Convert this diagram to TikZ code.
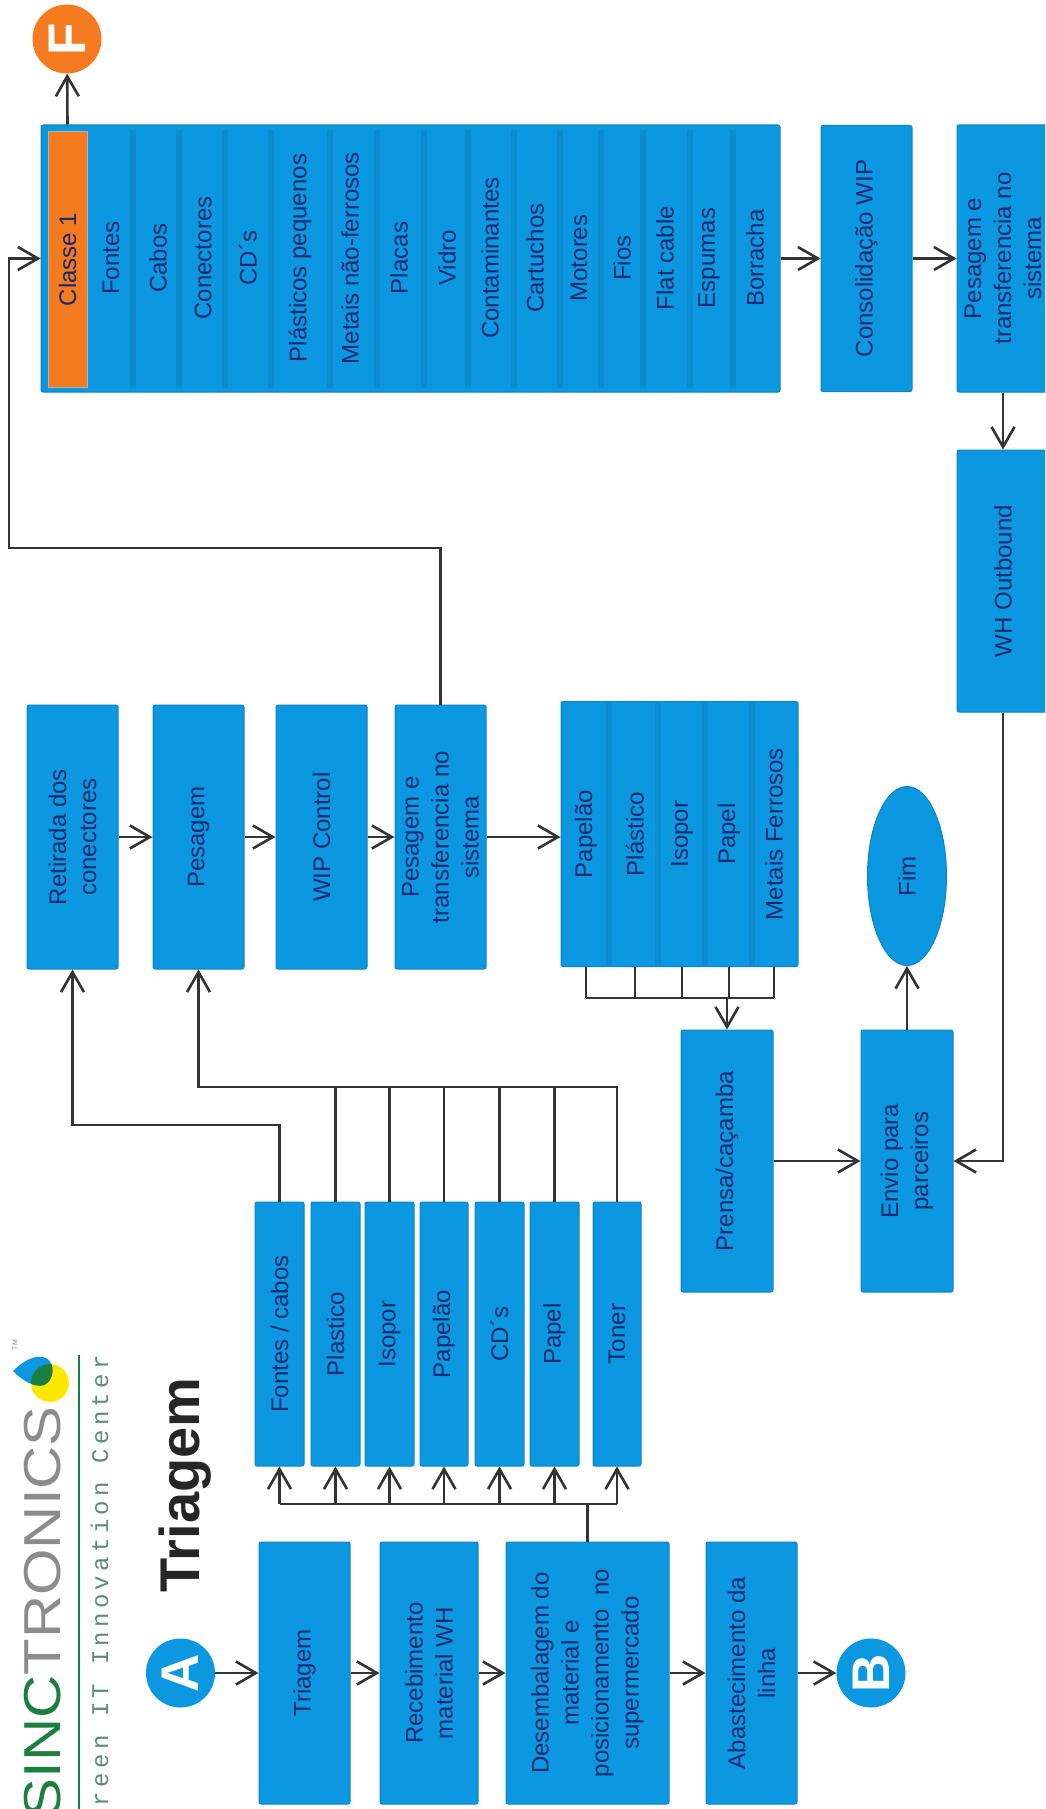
\documentclass[tikz,border=0pt]{standalone}
\usepackage{fontspec}
\setmainfont{Liberation Sans}
\newfontfamily\logomono[LetterSpace=18]{Liberation Mono}
\usetikzlibrary{arrows.meta,shapes.geometric}

\definecolor{blockBlue}{HTML}{0B98E0}
\definecolor{blockEdge}{HTML}{0B84C4}
\definecolor{stripeBlue}{HTML}{0B8ACF}
\definecolor{classeOrange}{HTML}{F47B20}
\definecolor{labelNavy}{HTML}{14296F}
\definecolor{lineDark}{HTML}{333333}
\definecolor{logoGreen}{HTML}{1D7F3F}
\definecolor{logoGrey}{HTML}{8C8C8C}
\definecolor{logoTeal}{HTML}{5E8A7A}

\tikzset{
    >={Straight Barb[length=20pt,width=23pt]},
    blockBox/.style={rotate=90, draw=blockEdge, fill=blockBlue, line width=1pt, rounded corners=2pt,
        inner sep=0pt, align=center, text=labelNavy, font=\fontsize{24}{30}\selectfont},
    itemText/.style={rotate=90, inner sep=0pt, text=labelNavy, font=\fontsize{24}{30}\selectfont},
    tagCircle/.style={circle, minimum size=69pt, inner sep=0pt, text=white, font=\fontsize{53}{53}\selectfont\bfseries},
    flowLine/.style={->, lineDark, line width=2.6pt},
    busLine/.style={lineDark, line width=2.6pt},
}

\begin{document}
\begin{tikzpicture}[x=1pt,y=-1pt]
    \useasboundingbox (0,0) rectangle (1045,1809);
    \clip (0,0) rectangle (1045,1809);

    % Logo and title
    \fill[yellow!90!orange] (50,1383) circle (19);
    \fill[blockBlue] (13,1371) .. controls (24,1360) and (36,1354) .. (46,1358)
        .. controls (56,1363) and (54,1381) .. (44,1385) .. controls (34,1388) and (22,1380) .. (13,1371);
    \begin{scope}
        \clip (13,1371) .. controls (24,1360) and (36,1354) .. (46,1358)
            .. controls (56,1363) and (54,1381) .. (44,1385) .. controls (34,1388) and (22,1380) .. (13,1371);
        \fill[logoGreen] (50,1383) circle (19);
    \end{scope}
    \node[rotate=90, anchor=base east, inner sep=0pt, font=\fontsize{52}{52}\selectfont] (logoName) at (60,1406)
        {\scalebox{1.15}[1]{\textcolor{logoGreen}{SINC}\textcolor{logoGrey}{TRONICS}}};
    \node[rotate=90, inner sep=0pt, text=logoGrey, font=\fontsize{7}{7}\selectfont] (logoTm) at (15,1345) {TM};
    \draw[logoGreen, line width=2pt] (79,1355) -- (79,1809);
    \node[rotate=90, anchor=base east, inner sep=0pt, text=logoTeal, font=\logomono\fontsize{24}{24}\selectfont] (logoSub) at (108,1355)
        {reen IT Innovation Center};
    \node[rotate=90, anchor=base, inner sep=0pt, text=black!85, font=\fontsize{56}{56}\selectfont\bfseries] (tituloTriagem) at (199,1485) {Triagem};

    % Left column
    \node[tagCircle, fill=blockBlue] (tagA) at (180.5,1673) {\rotatebox{90}{A}};
    \node[blockBox, minimum width=262pt, minimum height=91pt] (triagem) at (304.5,1673) {Triagem};
    \node[blockBox, minimum width=262pt, minimum height=98pt] (recebimento) at (429,1673) {Recebimento\\material WH};
    \node[blockBox, minimum width=262pt, minimum height=163pt] (desembalagem) at (587.5,1673)
        {Desembalagem do\\material e\\posicionamento~~no\\supermercado};
    \node[blockBox, minimum width=262pt, minimum height=91pt] (abastecimento) at (751.5,1673) {Abastecimento da\\linha};
    \node[tagCircle, fill=blockBlue] (tagB) at (871,1673) {\rotatebox{90}{B}};

    \draw[flowLine] (tagA) -- (triagem);
    \draw[flowLine] (triagem) -- (recebimento);
    \draw[flowLine] (recebimento) -- (desembalagem);
    \draw[flowLine] (desembalagem) -- (abastecimento);
    \draw[flowLine] (abastecimento) -- (tagB);

    % Sorted material boxes
    \foreach \name/\x/\boxw/\txt in {fontesCabos/279.5/49/{Fontes / cabos}, plastico/335.5/49/Plastico, isopor/389.5/49/Isopor,
            papelao/444/48/Papelão, cds/499.5/49/CD´s, papel/554.5/49/Papel, toner/617/48/Toner}
        \node[blockBox, minimum width=264pt, minimum height=\boxw pt] (\name) at (\x,1334) {\txt};

    % Fan out from Desembalagem
    \coordinate (busFan) at (587.5,1504);
    \draw[busLine] (desembalagem.east) -- (busFan);
    \draw[busLine] (fontesCabos.west |- busFan) -- (toner.west |- busFan);
    \foreach \name in {fontesCabos, plastico, isopor, papelao, cds, papel, toner}
        \draw[flowLine] (\name.west |- busFan) -- (\name.west);

    % Middle row
    \node[blockBox, minimum width=264pt, minimum height=91pt] (retirada) at (72.5,837) {Retirada dos\\conectores};
    \node[blockBox, minimum width=264pt, minimum height=91pt] (pesagem) at (198.5,837) {Pesagem};
    \node[blockBox, minimum width=264pt, minimum height=91pt] (wipControl) at (321.5,837) {WIP Control};
    \node[blockBox, minimum width=264pt, minimum height=91pt] (pesagemMeio) at (440.5,837) {Pesagem e\\transferencia no\\sistema};

    \draw[flowLine] (retirada) -- (pesagem);
    \draw[flowLine] (pesagem) -- (wipControl);
    \draw[flowLine] (wipControl) -- (pesagemMeio);

    \coordinate (busFontes) at (72.5,1125);
    \draw[flowLine] (fontesCabos.east) |- (busFontes) -- (retirada.west);
    \coordinate (busPesagem) at (198.5,1087);
    \draw[flowLine] (toner.east) |- (busPesagem) -- (pesagem.west);
    \foreach \name in {plastico, isopor, papelao, cds, papel}
        \draw[busLine] (\name.east) -- (\name.east |- busPesagem);

    % Papelao group
    \node[blockBox, minimum width=265pt, minimum height=237pt] (grupoBox) at (679.5,834) {};
    \foreach \x in {606,655,702,749}
        \fill[stripeBlue] (\x,703) rectangle (\x+6,965);
    \foreach \name/\x/\txt in {grupoPapelao/586/Papelão, grupoPlastico/635/Plástico, grupoIsopor/682/Isopor,
            grupoPapel/729/Papel, grupoMetais/774/{Metais Ferrosos}}
        \node[itemText] (\name) at (\x,834) {\txt};
    \draw[flowLine] (pesagemMeio) -- (pesagemMeio -| grupoBox.north);

    \coordinate (busGrupo) at (727,998);
    \foreach \name in {grupoPapelao, grupoPlastico, grupoIsopor, grupoPapel, grupoMetais}
        \draw[busLine] (\name |- grupoBox.west) -- (\name |- busGrupo);
    \draw[busLine] (grupoPapelao |- busGrupo) -- (grupoMetais |- busGrupo);

    % Ending
    \node[blockBox, minimum width=262pt, minimum height=92pt] (prensa) at (727,1161) {Prensa/caçamba};
    \node[blockBox, minimum width=262pt, minimum height=92pt] (envio) at (907,1161) {Envio para\\parceiros};
    \node[blockBox, ellipse, minimum width=179pt, minimum height=79pt] (fim) at (907,876) {Fim};

    \draw[flowLine] (busGrupo) -- (prensa.east);
    \draw[flowLine] (prensa) -- (envio);
    \draw[flowLine] (envio) -- (fim);

    % Class 1 box
    \node[blockBox, minimum width=267pt, minimum height=739pt] (classeBox) at (410.5,258.5) {};
    \foreach \x in {130,176,222,268,327,374,421,465,511,557,598,640,687,730}
        \fill[stripeBlue] (\x,130) rectangle (\x+6,388);
    \node[blockBox, draw=gray!60, fill=classeOrange, rounded corners=0pt, minimum width=255pt, minimum height=39pt] (classeUm) at (67.5,259.5) {Classe 1};
    \foreach \name/\x/\txt in {itemFontes/111/Fontes, itemCabos/158/Cabos, itemConectores/203/Conectores, itemCds/248/CD´s,
            itemPlasticos/300/{Plásticos pequenos}, itemMetais/350/{Metais não-ferrosos}, itemPlacas/399/Placas,
            itemVidro/447/Vidro, itemContaminantes/490/Contaminantes, itemCartuchos/535/Cartuchos, itemMotores/579/Motores,
            itemFios/622/Fios, itemFlat/665/{Flat cable}, itemEspumas/709/Espumas, itemBorracha/755/Borracha}
        \node[itemText] (\name) at (\x,258) {\txt};

    \node[tagCircle, fill=classeOrange] (tagF) at (67,39) {\rotatebox{90}{F}};
    \draw[flowLine] (classeUm |- classeBox.east) -- (tagF);

    % Right side
    \node[blockBox, minimum width=266pt, minimum height=91pt] (consolidacao) at (866.5,258.5) {Consolidação WIP};
    \node[blockBox, minimum width=267pt, minimum height=92pt] (pesagemFinal) at (1003,258.5) {Pesagem e\\transferencia no\\sistema};
    \node[blockBox, minimum width=262pt, minimum height=92pt] (whOutbound) at (1003,581) {WH Outbound};

    \draw[flowLine] (classeBox) -- (consolidacao);
    \draw[flowLine] (consolidacao) -- (pesagemFinal);
    \draw[flowLine] (pesagemFinal) -- (whOutbound);
    \draw[flowLine] (whOutbound) |- (envio);

    % Long return line
    \coordinate (voltaA) at (440.5,548);
    \coordinate (voltaB) at (9,548);
    \draw[flowLine] (pesagemMeio.east) -- (voltaA) -- (voltaB) |- (classeBox.north);
\end{tikzpicture}
\end{document}
